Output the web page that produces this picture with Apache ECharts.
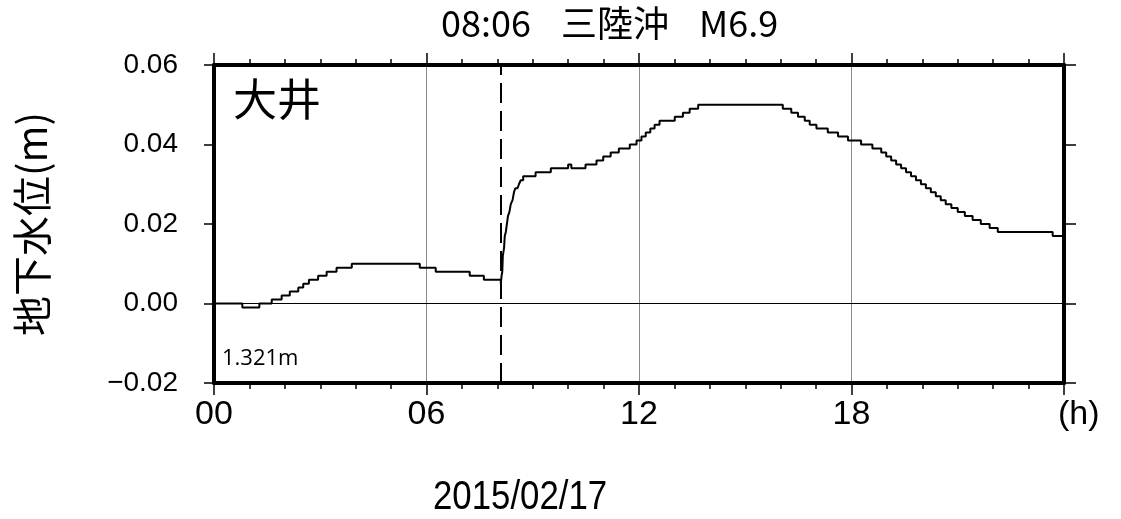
<!DOCTYPE html>
<html>
<head>
<meta charset="utf-8">
<title>大井 地下水位 2015/02/17</title>
<script src="https://cdn.jsdelivr.net/npm/echarts@6/dist/echarts.min.js"></script>
<style>
  html, body { margin: 0; padding: 0; background: #fff; }
  #chart { width: 1121px; height: 519px; }
</style>
</head>
<body>
<div id="chart"></div>
<script>
// Groundwater level at Oi station, 2015/02/17 (hours from 00:00, level in metres)
const hours = [
  0.00, 0.80, 1.28, 1.63, 1.91, 2.14, 2.38, 2.52, 2.68, 2.94, 3.18, 3.46, 3.89,
  5.81, 6.26, 7.22, 7.62, 8.098,
  8.12, 8.14, 8.155, 8.19, 8.21, 8.24, 8.27, 8.30, 8.34, 8.38, 8.43, 8.47, 8.51,
  8.57, 8.61, 8.66, 8.73,
  9.08, 9.51, 10.00, 10.09, 10.49, 10.80, 10.99, 11.20, 11.43, 11.74, 11.93,
  12.07, 12.19, 12.32, 12.44, 12.58, 13.01, 13.24, 13.43, 13.67,
  16.06, 16.30, 16.49, 16.68, 16.82, 17.01, 17.33, 17.62, 17.90,
  18.27, 18.59, 18.84, 18.98, 19.12, 19.26, 19.40, 19.54, 19.68, 19.82, 19.96,
  20.10, 20.24, 20.38, 20.52, 20.66, 20.82, 21.00, 21.20, 21.42, 21.65, 21.90,
  22.13, 23.68, 24.00
];
const levels = [
  0.000, -0.001, 0.000, 0.001, 0.002, 0.003, 0.004, 0.005, 0.006, 0.007, 0.008, 0.009, 0.010,
  0.009, 0.008, 0.007, 0.006, 0.005,
  0.007, 0.008, 0.012, 0.014, 0.017, 0.018, 0.020, 0.022, 0.023, 0.025, 0.026, 0.028, 0.029,
  0.029, 0.030, 0.031, 0.032,
  0.033, 0.034, 0.035, 0.034, 0.035, 0.036, 0.037, 0.038, 0.039, 0.040, 0.041,
  0.042, 0.043, 0.044, 0.045, 0.046, 0.047, 0.048, 0.049, 0.050,
  0.049, 0.048, 0.047, 0.046, 0.045, 0.044, 0.043, 0.042, 0.041,
  0.040, 0.039, 0.038, 0.037, 0.036, 0.035, 0.034, 0.033, 0.032, 0.031, 0.030,
  0.029, 0.028, 0.027, 0.026, 0.025, 0.024, 0.023, 0.022, 0.021, 0.020, 0.019,
  0.018, 0.017, 0.017
];

// Axis ranges and tick spacing
const xRange = [0, 24];
const xStep = 6;
const yRange = [-0.02, 0.06];
const yStep = 0.02;

// Earthquake origin time (08:06) and reference level
const quakeHour = 8.1;
const baseLevel = 0;

const titleParts = ['08:06', '三陸沖', 'M6.9'];
const dateText = '2015/02/17';
const stationName = '大井';
const baseLabel = '1.321m';
const yName = '地下水位(m)';
const xUnit = '(h)';

const sans = '"Liberation Sans", Arial, sans-serif';
const cjk = '"Noto Sans CJK JP", "Noto Sans", sans-serif';

const chart = echarts.init(document.getElementById('chart'), null, { renderer: 'canvas' });

const frame = { onZero: false, lineStyle: { color: '#000', width: 4 } };
const tickStyle = { color: '#000', width: 1.5 };

chart.setOption({
  animation: false,
  backgroundColor: '#fff',
  title: [
    { text: titleParts.join('{sp| }'), left: 441, top: 5, padding: 0,
      textStyle: {
        fontFamily: cjk, fontSize: 36, fontWeight: 'normal', color: '#000',
        rich: { sp: { width: 30, fontSize: 36 } }
      } },
    { text: stationName, left: 233, top: 77, padding: 0,
      textStyle: { fontFamily: cjk, fontSize: 44, fontWeight: 'normal', color: '#000' } },
    { text: baseLabel, left: 222, top: 348, padding: 0,
      textStyle: { fontFamily: '"Open Sans", sans-serif', fontSize: 22, fontWeight: 'normal', color: '#000' } }
  ],
  graphic: [
    {
      // date line under the chart, drawn slightly condensed
      type: 'text', left: 433, top: 478, scaleX: 0.87,
      style: { text: dateText, font: '40px ' + sans, fill: '#000' }
    }
  ],
  grid: { left: 214, right: 57, top: 65, bottom: 136, containLabel: false },
  xAxis: [
    {
      type: 'value', position: 'bottom', min: xRange[0], max: xRange[1], interval: xStep,
      axisLine: frame,
      axisTick: { show: true, inside: false, length: 12, lineStyle: tickStyle },
      minorTick: { show: true, splitNumber: 6, length: 6, lineStyle: tickStyle },
      splitLine: { show: true, lineStyle: { color: '#8a8a8a', width: 1 } },
      axisLabel: {
        margin: 15, color: '#000', fontFamily: sans, fontSize: 34,
        formatter: v => (v >= xRange[1] ? '' : String(v).padStart(2, '0'))
      },
      name: xUnit, nameLocation: 'end', nameGap: -6,
      nameTextStyle: { fontFamily: sans, fontSize: 34, color: '#000', verticalAlign: 'top', padding: [15, 0, 0, 0] }
    },
    {
      type: 'value', position: 'top', min: xRange[0], max: xRange[1], interval: xStep,
      axisLine: frame,
      axisTick: { show: true, inside: false, length: 12, lineStyle: tickStyle },
      minorTick: { show: true, splitNumber: 6, length: 6, lineStyle: tickStyle },
      splitLine: { show: false },
      axisLabel: { show: false }
    }
  ],
  yAxis: [
    {
      type: 'value', position: 'left', min: yRange[0], max: yRange[1], interval: yStep,
      axisLine: frame,
      axisTick: { show: true, inside: false, length: 10, lineStyle: tickStyle },
      splitLine: { show: false },
      axisLabel: {
        margin: 36, color: '#000', fontFamily: sans, fontSize: 28,
        formatter: v => (v < 0 ? '\u2212' + Math.abs(v).toFixed(2) : v.toFixed(2))
      },
      name: yName, nameLocation: 'middle', nameRotate: 90, nameGap: 162,
      nameTextStyle: { fontFamily: cjk, fontSize: 40, color: '#000' }
    },
    {
      type: 'value', position: 'right', min: yRange[0], max: yRange[1], interval: yStep,
      axisLine: frame,
      axisTick: { show: true, inside: false, length: 12, lineStyle: tickStyle },
      splitLine: { show: false },
      axisLabel: { show: false }
    }
  ],
  series: [
    {
      type: 'line',
      xAxisIndex: 0, yAxisIndex: 0,
      step: 'end',
      symbol: 'none',
      lineStyle: { color: '#000', width: 2 },
      data: hours.map((h, i) => [h, levels[i]]),
      markLine: {
        silent: true,
        symbol: 'none',
        label: { show: false },
        data: [
          { yAxis: baseLevel, lineStyle: { color: '#000', width: 1, type: 'solid' } },
          { xAxis: quakeHour, lineStyle: { color: '#000', width: 2, type: [20, 8] } }
        ]
      },
      z: 3
    }
  ]
});
</script>
</body>
</html>
